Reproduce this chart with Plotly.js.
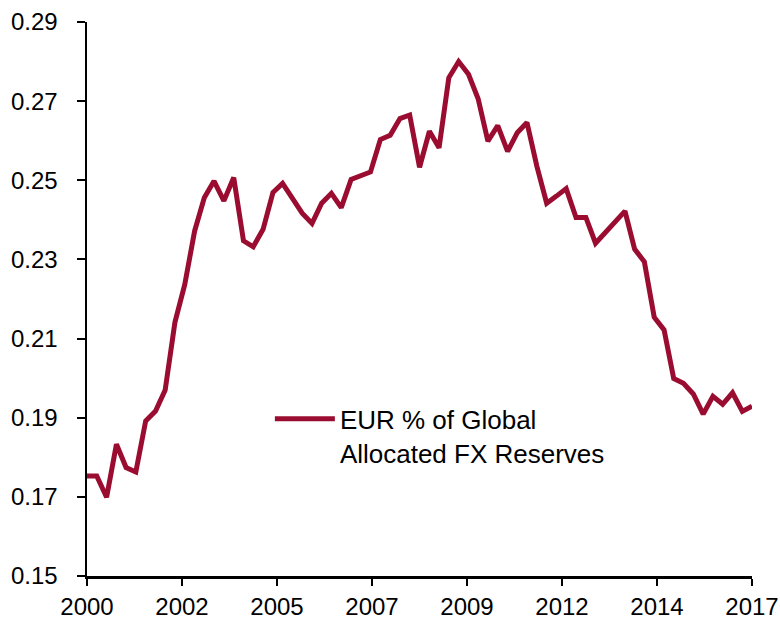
<!DOCTYPE html>
<html>
<head>
<meta charset="utf-8">
<script src="https://cdn.plot.ly/plotly-3.0.1.min.js"></script>
<style>
  html, body { margin: 0; padding: 0; background: #fff; }
  #chart { width: 780px; height: 621px; }
</style>
</head>
<body>
<div id="chart"></div>
<script>
// EUR share of global allocated FX reserves, quarterly, 2000 Q1 - 2017 Q1
const startYear = 2000;
const seriesName = 'EUR % of Global<br>Allocated FX Reserves';
const eurShare = [
    0.1753, 0.1753, 0.1699, 0.1833, 0.1774, 0.1763, 0.1892, 0.1917, 0.1970, 0.2141,
    0.2237, 0.2372, 0.2456, 0.2498, 0.2448, 0.2507, 0.2347, 0.2332, 0.2376, 0.2469,
    0.2492, 0.2456, 0.2417, 0.2391, 0.2442, 0.2467, 0.2431, 0.2502, 0.2511, 0.2521,
    0.2603, 0.2614, 0.2656, 0.2665, 0.2533, 0.2624, 0.2582, 0.2759, 0.2800, 0.2768,
    0.2706, 0.2599, 0.2638, 0.2573, 0.2620, 0.2646, 0.2536, 0.2442, 0.2460, 0.2479,
    0.2406, 0.2406, 0.2341, 0.2368, 0.2395, 0.2422, 0.2326, 0.2294, 0.2154, 0.2122,
    0.1999, 0.1987, 0.1960, 0.1909, 0.1954, 0.1934, 0.1963, 0.1916, 0.1929
];

// quarter-end dates
const quarterEnds = ['03-31', '06-30', '09-30', '12-31'];
const dates = eurShare.map((v, i) =>
    (startYear + Math.floor(i / 4)) + '-' + quarterEnds[i % 4]);

const lineColour = '#9b0d30';
const axisFont = { family: 'Liberation Sans, Arial, sans-serif', size: 24, color: 'black' };
const legendFont = { family: 'Liberation Sans, Arial, sans-serif', size: 26, color: 'black' };

const traces = [{
    type: 'scatter',
    mode: 'lines',
    x: dates,
    y: eurShare,
    name: seriesName,
    line: { color: lineColour, width: 5 },
    hoverinfo: 'x+y'
}];

const layout = {
    width: 780,
    height: 621,
    margin: { l: 87, r: 28, t: 22, b: 45 },
    paper_bgcolor: 'white',
    plot_bgcolor: 'white',
    font: axisFont,
    showlegend: true,
    legend: {
        x: 0.275, y: 0.326,
        xanchor: 'left', yanchor: 'top',
        valign: 'top',
        itemwidth: 60,
        bgcolor: 'rgba(0,0,0,0)',
        font: legendFont
    },
    xaxis: {
        type: 'date',
        range: [dates[0], dates[dates.length - 1]],
        tick0: dates[0],
        dtick: 887 * 86400000,
        tickformat: '%Y',
        showgrid: false,
        zeroline: false,
        showline: true,
        linecolor: 'black',
        linewidth: 2.5,
        ticks: 'outside', ticklen: 7, tickwidth: 2, tickcolor: 'black',
        ticklabelstandoff: 1,
        tickfont: axisFont
    },
    yaxis: {
        range: [0.15, 0.29],
        tick0: 0.15,
        dtick: 0.02,
        tickformat: '.2f',
        showgrid: false,
        zeroline: false,
        showline: true,
        linecolor: 'black',
        linewidth: 2.5,
        ticks: 'outside', ticklen: 8, tickwidth: 2, tickcolor: 'black',
        ticklabelstandoff: 14,
        tickfont: axisFont
    }
};

Plotly.newPlot('chart', traces, layout, { displayModeBar: false, staticPlot: true });
</script>
</body>
</html>
